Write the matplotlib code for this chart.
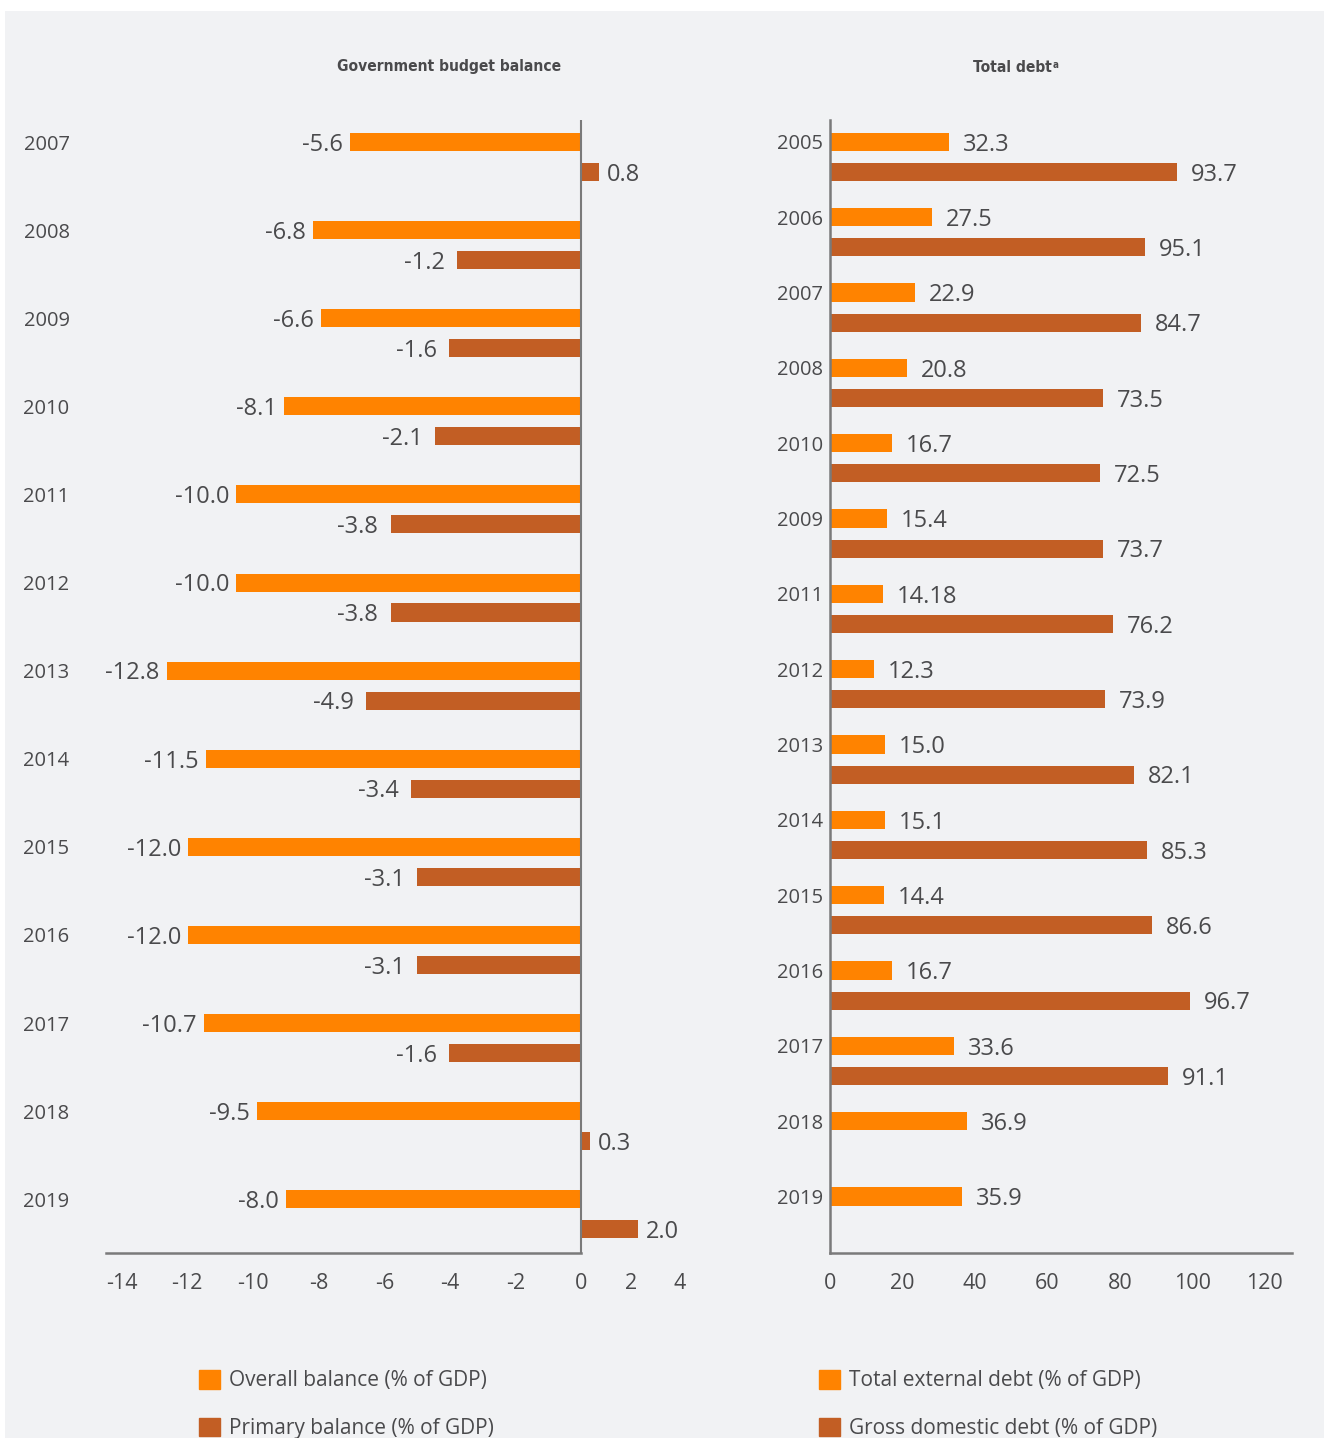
import matplotlib.pyplot as plt
from matplotlib import font_manager
from matplotlib.patches import Patch, Rectangle

# colours
orange = '#ff8300'
brown = '#c25e24'
grey_txt = '#4a4a4c'
axis_col = '#7a7a7a'

# ---- left panel: government budget balance ----
years_left = ['2007', '2008', '2009', '2010', '2011', '2012', '2013',
              '2014', '2015', '2016', '2017', '2018', '2019']
# bar lengths as drawn in the picture (they do not follow the printed values)
overall_bar = [-7.04, -8.17, -7.93, -9.05, -10.51, -10.51, -12.62,
               -11.43, -11.98, -11.98, -11.49, -9.87, -8.99]
primary_bar = [0.53, -3.79, -4.03, -4.46, -5.80, -5.80, -6.56,
               -5.19, -5.00, -5.00, -4.03, 0.26, 1.71]
overall_lbl = ['-5.6', '-6.8', '-6.6', '-8.1', '-10.0', '-10.0', '-12.8',
               '-11.5', '-12.0', '-12.0', '-10.7', '-9.5', '-8.0']
primary_lbl = ['0.8', '-1.2', '-1.6', '-2.1', '-3.8', '-3.8', '-4.9',
               '-3.4', '-3.1', '-3.1', '-1.6', '0.3', '2.0']
left_ticks = ['-14', '-12', '-10', '-8', '-6', '-4', '-2', '0', '2', '4']

# ---- right panel: total debt ----
years_right = ['2005', '2006', '2007', '2008', '2010', '2009', '2011', '2012',
               '2013', '2014', '2015', '2016', '2017', '2018', '2019']
external_bar = [32.9, 28.2, 23.5, 21.3, 17.2, 15.8, 14.7, 12.2,
                15.3, 15.3, 15.0, 17.2, 34.3, 37.9, 36.5]
domestic_bar = [95.8, 87.0, 85.9, 75.4, 74.6, 75.4, 78.2, 76.0,
                84.0, 87.5, 88.9, 99.4, 93.3]
external_lbl = ['32.3', '27.5', '22.9', '20.8', '16.7', '15.4', '14.18', '12.3',
                '15.0', '15.1', '14.4', '16.7', '33.6', '36.9', '35.9']
domestic_lbl = ['93.7', '95.1', '84.7', '73.5', '72.5', '73.7', '76.2', '73.9',
                '82.1', '85.3', '86.6', '96.7', '91.1']
right_ticks = [0, 20, 40, 60, 80, 100, 120]

plt.rcParams['font.family'] = ['Open Sans', 'DejaVu Sans']

# look for a narrow bold face for the panel titles
title_fp = None
for f in font_manager.fontManager.ttflist:
    narrow = ('Narrow' in f.name or 'Condensed' in f.name
              or f.stretch in ('condensed', 'semi-condensed', 'extra-condensed'))
    heavy = f.weight in ('bold', 700, 600, 'semibold', 'demibold')
    if narrow and heavy and f.style == 'normal':
        title_fp = font_manager.FontProperties(fname=f.fname, size=11.2)
        break
if title_fp is None:
    title_fp = font_manager.FontProperties(family=['Roboto', 'DejaVu Sans'],
                                           weight='bold', size=11)

W, H = 1324, 1438
fig = plt.figure(figsize=(W / 100, H / 100), dpi=100)
fig.patches.append(Rectangle((5 / W, 0), 1 - 5 / W, 1 - 11 / H, transform=fig.transFigure,
                             facecolor='#f1f2f4', edgecolor='none', zorder=-10))


def px_axes(x0, x1, y0, y1):
    return fig.add_axes([x0 / W, 1 - y1 / H, (x1 - x0) / W, (y1 - y0) / H])


lbl_size = 17

# ---------------- left ----------------
ax1 = px_axes(105.7, 700, 120, 1253)
ax1.patch.set_alpha(0)
pos = list(range(len(years_left)))
off = 0.34
ax1.barh(pos, overall_bar, height=0.205, color=orange)
ax1.barh([p + off for p in pos], primary_bar, height=0.205, color=brown)
for p, v, s in zip(pos, overall_bar, overall_lbl):
    ax1.annotate(s, (v, p), xytext=(-5 if v < 0 else 6, -2), textcoords='offset points',
                 ha='right' if v < 0 else 'left', va='center', fontsize=lbl_size, color=grey_txt)
for p, v, s in zip(pos, primary_bar, primary_lbl):
    ax1.annotate(s, (v, p + off), xytext=(-9 if v < 0 else 6, -2), textcoords='offset points',
                 ha='right' if v < 0 else 'left', va='center', fontsize=lbl_size, color=grey_txt)
ax1.set_xlim(-14.48, 3.61)
ax1.set_ylim(12.61, -0.25)
ax1.axvline(0, color=axis_col, lw=1.5)
for s in ['top', 'right', 'left']:
    ax1.spines[s].set_visible(False)
ax1.spines['bottom'].set_color(axis_col)
ax1.spines['bottom'].set_linewidth(1.8)
ax1.spines['bottom'].set_bounds(-14.48, 0)
# the positive tick labels sit closer together in the source graphic
tick_pos = [-14, -12, -10, -8, -6, -4, -2, 0, 1.5, 3.0]
ax1.set_xticks(tick_pos, left_ticks)
ax1.set_yticks(pos, years_left)
ax1.tick_params(axis='x', length=0, pad=14.5, labelsize=15.5, labelcolor=grey_txt)
ax1.tick_params(axis='y', length=0, pad=26, labelsize=14.5, labelcolor=grey_txt)

# ---------------- right ----------------
ax2 = px_axes(829.7, 1292, 120, 1253)
ax2.patch.set_alpha(0)
pos2 = list(range(len(years_right)))
off2 = 0.40
ax2.barh(pos2, external_bar, height=0.24, color=orange)
ax2.barh([p + off2 for p in pos2[:len(domestic_bar)]], domestic_bar, height=0.24, color=brown)
for p, v, s in zip(pos2, external_bar, external_lbl):
    ax2.annotate(s, (v, p), xytext=(10, -2), textcoords='offset points',
                 ha='left', va='center', fontsize=lbl_size, color=grey_txt)
for p, v, s in zip(pos2, domestic_bar, domestic_lbl):
    ax2.annotate(s, (v, p + off2), xytext=(10, -2), textcoords='offset points',
                 ha='left', va='center', fontsize=lbl_size, color=grey_txt)
ax2.set_xlim(0, 127.5)
ax2.set_ylim(14.75, -0.29)
for s in ['top', 'right']:
    ax2.spines[s].set_visible(False)
for s in ['left', 'bottom']:
    ax2.spines[s].set_color(axis_col)
    ax2.spines[s].set_linewidth(1.8)
ax2.set_xticks(right_ticks, [str(t) for t in right_ticks])
ax2.set_yticks(pos2, years_right)
ax2.tick_params(axis='x', length=0, pad=14.5, labelsize=15.5, labelcolor=grey_txt)
ax2.tick_params(axis='y', length=0, pad=5, labelsize=14.5, labelcolor=grey_txt)

# titles
fig.text(449 / W, 1 - 67 / H, 'Government budget balance', ha='center', va='center',
         color=grey_txt, fontproperties=title_fp)
t2 = fig.text(1012 / W, 1 - 67 / H, 'Total debt', ha='center', va='center',
              color=grey_txt, fontproperties=title_fp)
sup_fp = title_fp.copy()
sup_fp.set_size(7)
ax2.annotate('a', xy=(1.0, 0.95), xycoords=t2, xytext=(1, 0), textcoords='offset points',
             ha='left', va='top', color=grey_txt, fontproperties=sup_fp,
             annotation_clip=False)

# legends
leg_kw = dict(loc='upper left', frameon=False, handlelength=1.0, handleheight=1.0,
              handletextpad=0.45, labelspacing=1.25, borderpad=0, borderaxespad=0,
              fontsize=15, labelcolor=grey_txt)
fig.legend(handles=[Patch(color=orange, label='Overall balance (% of GDP)'),
                    Patch(color=brown, label='Primary balance (% of GDP)')],
           bbox_to_anchor=(199 / W, 1 - 1370 / H), **leg_kw)
fig.legend(handles=[Patch(color=orange, label='Total external debt (% of GDP)'),
                    Patch(color=brown, label='Gross domestic debt (% of GDP)')],
           bbox_to_anchor=(819 / W, 1 - 1370 / H), **leg_kw)

fig.savefig('out.png', dpi=100)
